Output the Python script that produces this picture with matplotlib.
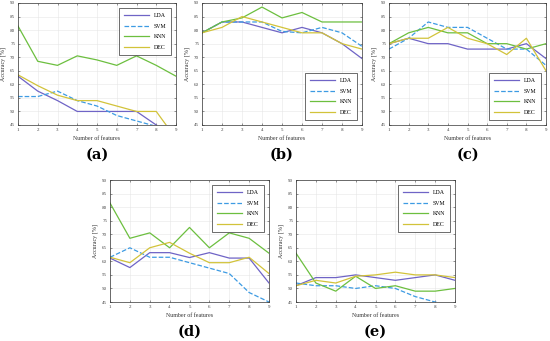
import matplotlib
matplotlib.use('Agg')
import matplotlib.pyplot as plt

features = [1, 2, 3, 4, 5, 6, 7, 8, 9]
methods = ['LDA', 'SVM', 'KNN', 'DEC']

# accuracy [%] per panel
lda_a = [63, 57.5, 54, 50, 50, 50, 50, 45, 41]
svm_a = [55.5, 55.5, 57.5, 54, 52, 48.5, 46.5, 44.5, 43]
knn_a = [81.5, 68.5, 67, 70.5, 69, 67, 70.5, 67, 63]
dec_a = [63.5, 59.5, 56, 54, 54, 52, 50, 50, 40]

lda_b = [79, 83, 83, 81, 79, 81, 79, 75, 69.5]
svm_b = [79, 83, 83, 83, 79.5, 79, 81, 79, 74]
knn_b = [79, 83, 84.5, 88.5, 84.5, 86.5, 83, 83, 83]
dec_b = [79, 81, 85, 83, 81, 79, 79, 75, 73]

lda_c = [75, 77, 75, 75, 73, 73, 73, 75, 69.5]
svm_c = [73, 77, 83, 81, 81, 77, 73, 73, 67]
knn_c = [75, 79, 81, 79, 79, 75, 75, 73, 75]
dec_c = [75, 77, 77, 81, 77, 75, 71, 77, 65]

lda_d = [61.2, 57.7, 63.2, 63.2, 61.4, 63.2, 61.2, 61.2, 52]
svm_d = [61.5, 65, 61.5, 61.5, 59.5, 57.5, 55.5, 48.5, 45]
knn_d = [81.5, 68.5, 70.5, 65, 72.5, 65, 70.5, 68.5, 63]
dec_d = [61.5, 59.5, 65, 67, 63, 59.5, 59.5, 61.5, 55.5]

lda_e = [51, 54, 54, 55, 54, 53, 54, 55, 53]
svm_e = [52, 51, 51, 50, 51, 50, 47, 45, 43]
knn_e = [63, 52, 49, 54.5, 50, 51, 49, 49, 50]
dec_e = [51, 53, 52, 54.5, 55, 56, 55, 55, 54]

yticks = [45, 50, 55, 60, 65, 70, 75, 80, 85, 90]

colors = {'LDA': '#6f64c6', 'SVM': '#3d9be3', 'KNN': '#6cbf3f', 'DEC': '#d2c33a'}
styles = {'LDA': '-', 'SVM': '--', 'KNN': '-', 'DEC': '-'}

panels = [
  ('(a)', [lda_a, svm_a, knn_a, dec_a], [18, 3, 176, 125], 'upper right'),
  ('(b)', [lda_b, svm_b, knn_b, dec_b], [202, 3, 362, 125], 'lower right'),
  ('(c)', [lda_c, svm_c, knn_c, dec_c], [389, 3, 546, 125], 'lower right'),
  ('(d)', [lda_d, svm_d, knn_d, dec_d], [110, 180, 269, 302], 'upper right'),
  ('(e)', [lda_e, svm_e, knn_e, dec_e], [296, 180, 455, 302], 'upper right'),
]

W, H = 550.0, 341.0
fig = plt.figure(figsize=(5.5, 3.41), dpi=100)
serif = 'Liberation Serif'

for tag, series, box, loc in panels:
  l, t, r, b = box
  ax = fig.add_axes([l / W, 1 - b / H, (r - l) / W, (b - t) / H])
  for name, vals in zip(methods, series):
    ax.plot(features, vals, styles[name], color=colors[name], lw=0.9, label=name)
  ax.set_xlim(1, 9)
  ax.set_ylim(45, 90)
  ax.set_xticks(features)
  ax.set_yticks(yticks)
  ax.grid(True, color='#e6e6e6', lw=0.4)
  ax.tick_params(direction='in', length=1.5, width=0.4, labelsize=3.6, pad=2,
                 colors='#444444', top=True, right=True)
  for lab in ax.get_xticklabels() + ax.get_yticklabels():
    lab.set_family(serif)
  for s in ax.spines.values():
    s.set_linewidth(0.5)
    s.set_color('#333333')
  ax.set_xlabel('Number of features', fontsize=4.3, family=serif, labelpad=3, color='#333333')
  ax.set_ylabel('Accuracy [%]', fontsize=4.3, family=serif, labelpad=3, color='#333333')
  leg = ax.legend(loc=loc, prop={'family': serif, 'size': 4.2}, handlelength=4.2,
                  labelspacing=0.95, borderpad=0.9, fancybox=False, framealpha=1,
                  edgecolor='#333333', borderaxespad=0.8)
  leg.get_frame().set_linewidth(0.5)
  cx = (l + r) / 2.0
  fig.text(cx / W, 1 - (b + 30) / H, tag, ha='center', va='center',
           fontsize=10.5, fontweight='bold', family='DejaVu Serif')

fig.savefig('out.png', dpi=100)
